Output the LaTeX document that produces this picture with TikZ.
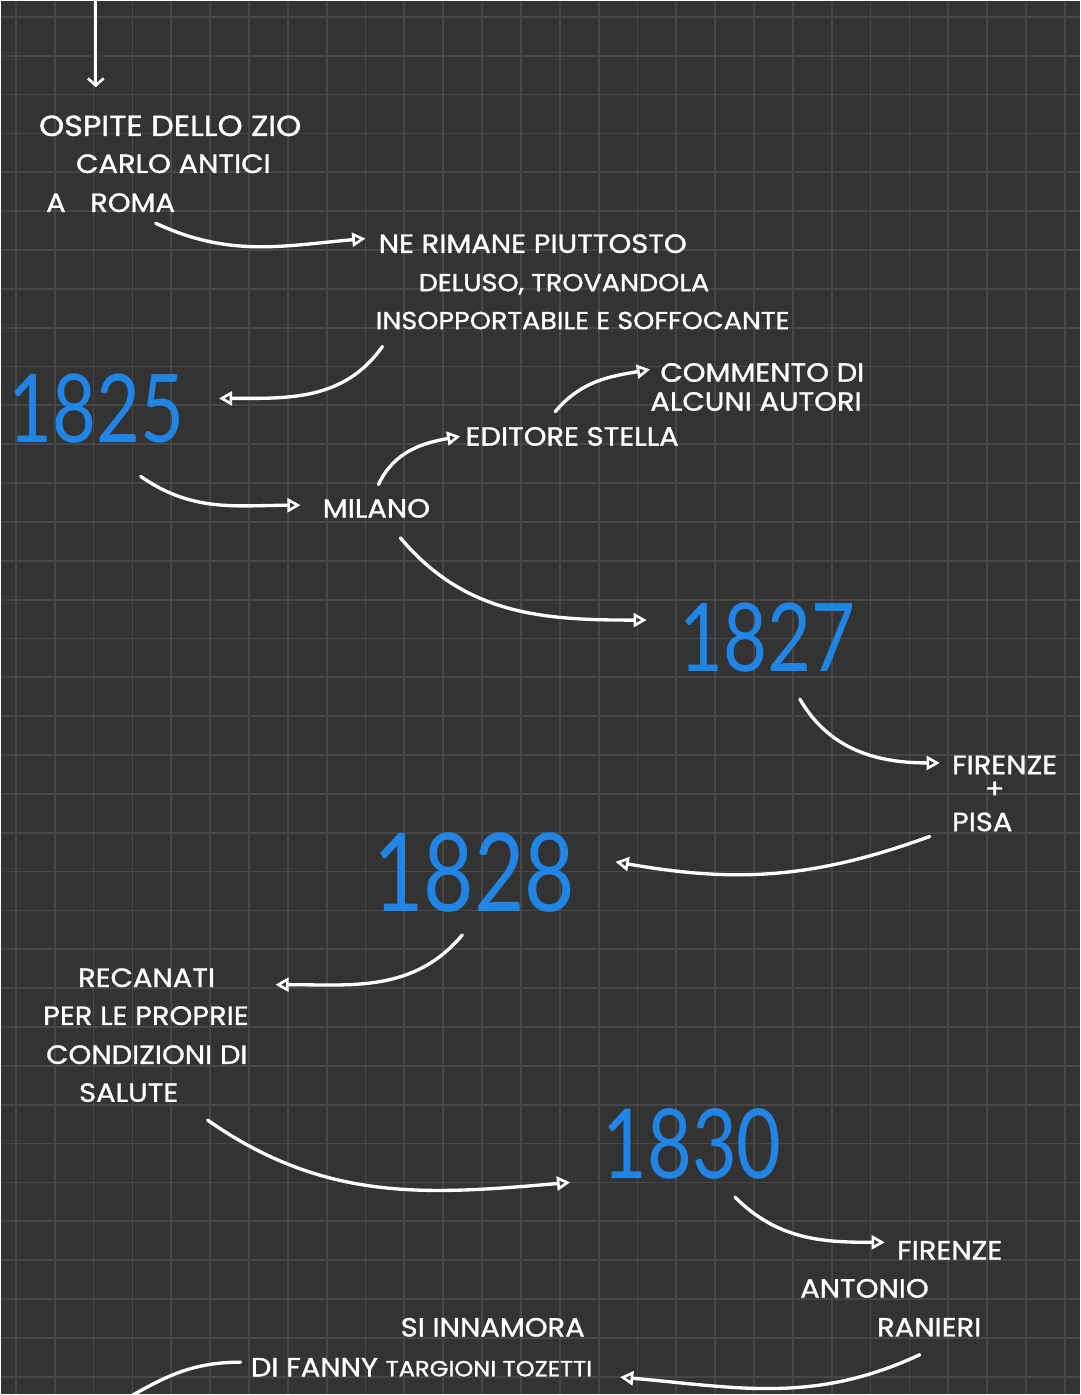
\documentclass[tikz,border=0pt]{standalone}
\usepackage{fontspec}
\usepackage{xcolor}
\usetikzlibrary{arrows.meta, calc}
\setmainfont{Poppins}
\newfontfamily\mano[FakeStretch=1.1, FakeBold=1.2]{Poppins}
\newfontfamily\anni[FakeStretch=0.8]{Lato}
\definecolor{lavagna}{HTML}{333333}
\definecolor{griglia}{HTML}{474747}
\definecolor{azzurro}{RGB}{33,133,230}
\tikzset{
    testo/.style={white, anchor=west, inner sep=0pt, text depth=0pt, font=\mano\fontsize{15}{18}\selectfont},
    piccolo/.style={font=\mano\fontsize{14}{17}\selectfont},
    anno/.style={azzurro, inner sep=0pt, font=\anni\fontsize{54}{60}\selectfont},
    freccia/.style={white, line width=1.9pt, line cap=round, -{Triangle[open, length=7.5pt, width=8pt, line width=1.5pt]}}
}

\begin{document}
\begin{tikzpicture}[x=0.02cm, y=0.02cm]
    % Sfondo a quadretti
    \fill[lavagna] (0,0) rectangle (1080,-1395);
    \foreach \i in {0,...,27}{
        \draw[griglia, line width=1pt] ({15+38.9*\i},0) -- ({15+38.9*\i},-1395);
    }
    \foreach \j in {0,...,35}{
        \draw[griglia, line width=1pt] (0,{-16-38.9*\j}) -- (1080,{-16-38.9*\j});
    }
    \useasboundingbox (0,0) rectangle (1080,-1395);

    % Roma
    \coordinate (inizio) at (95,0);
    \node[testo, font=\mano\fontsize{16.5}{19}\selectfont] (ospite) at (38,-125) {OSPITE DELLO ZIO};
    \node[testo] (carlo) at (75,-163) {CARLO ANTICI};
    \node[testo] (roma) at (45,-202) {A\hspace{14pt}ROMA};
    \node[testo] (nerimane) at (378,-243) {NE RIMANE PIUTTOSTO};
    \node[testo, piccolo] (deluso) at (418,-282) {DELUSO, TROVANDOLA};
    \node[testo, piccolo] (insopp) at (375,-320) {INSOPPORTABILE E SOFFOCANTE};

    % 1825 - Milano
    \node[anno] (a1825) at (96,-408) {1825};
    \node[testo] (milano) at (322,-508) {MILANO};
    \node[testo] (editore) at (465,-436) {EDITORE STELLA};
    \node[testo] (commento) at (660,-372) {COMMENTO DI};
    \node[testo] (autori) at (650,-401) {ALCUNI AUTORI};

    % 1827 - Firenze e Pisa
    \node[anno] (a1827) at (768,-637) {1827};
    \node[testo] (firenze) at (952,-765) {FIRENZE};
    \node[testo, anchor=center] (piu) at (995,-790) {+};
    \node[testo] (pisa) at (952,-822) {PISA};

    % 1828 - Recanati
    \node[anno, font=\anni\fontsize{62}{70}\selectfont] (a1828) at (474,-873) {1828};
    \node[testo] (recanati) at (77,-978) {RECANATI};
    \node[testo] (perle) at (42,-1016) {PER LE PROPRIE};
    \node[testo] (condizioni) at (45,-1055) {CONDIZIONI DI};
    \node[testo] (salute) at (78,-1093) {SALUTE};

    % 1830 - Firenze, Ranieri, Fanny
    \node[anno, font=\anni\fontsize{55}{62}\selectfont] (a1830) at (692,-1144) {1830};
    \node[testo] (firenzeb) at (897,-1251) {FIRENZE};
    \node[testo] (antonio) at (800,-1289) {ANTONIO};
    \node[testo] (ranieri) at (877,-1328) {RANIERI};
    \node[testo] (innamora) at (400,-1328) {SI INNAMORA};
    \node[testo] (fanny) at (250,-1368) {DI FANNY {\fontsize{12.5}{15}\selectfont TARGIONI TOZETTI}};
    \coordinate (fine) at (125,-1400);

    % Frecce
    \draw[white, line width=1.9pt, line cap=round, -{Straight Barb[length=4pt, width=9pt, line width=1.5pt]}]
        (inizio) -- ($(inizio |- ospite.north)+(0,28)$);
    \draw[freccia] ($(roma.south west)+(110,-11)$) to[out=-25, in=185] ($(nerimane.west)+(-13,5)$);
    \draw[freccia] ($(insopp.south west)+(7,-17)$) to[out=-125, in=0] ($(a1825.east)+(34,10)$);
    \draw[freccia] ($(a1825.south)+(44,-33)$) to[out=-35, in=180] ($(milano.west)+(-22,3)$);
    \draw[freccia] ($(milano.north west)+(56,14)$) to[out=65, in=190] ($(editore.west)+(-5,0)$);
    \draw[freccia] ($(editore.north west)+(90,15)$) to[out=50, in=190] ($(commento.west)+(-10,3)$);
    \draw[freccia] ($(milano.south west)+(78,-20)$) to[out=-50, in=180] ($(a1827.west)+(-33,17)$);
    \draw[freccia] ($(a1827.south)+(32,-27)$) to[out=-60, in=180] ($(firenze.west)+(-12,2)$);
    \draw[freccia] ($(pisa.south west)+(-22,-5)$) to[out=-160, in=-10] ($(a1828.east)+(40,11)$);
    \draw[freccia] ($(a1828.south)+(-12,-22)$) to[out=-130, in=0] ($(recanati.west)+(198,-7)$);
    \draw[freccia] ($(salute.south west)+(129,-18)$) to[out=-35, in=185] ($(a1830.west)+(-32,-39)$);
    \draw[freccia] ($(a1830.south)+(43,-18)$) to[out=-45, in=180] ($(firenzeb.west)+(-12,8)$);
    \draw[freccia] ($(ranieri.south west)+(43,-18)$) to[out=-155, in=-5] ($(fanny.west)+(370,-10)$);
    \draw[white, line width=1.9pt, line cap=round] ($(fanny.west)+(-10,5)$) to[out=180, in=30] (fine);
\end{tikzpicture}
\end{document}
